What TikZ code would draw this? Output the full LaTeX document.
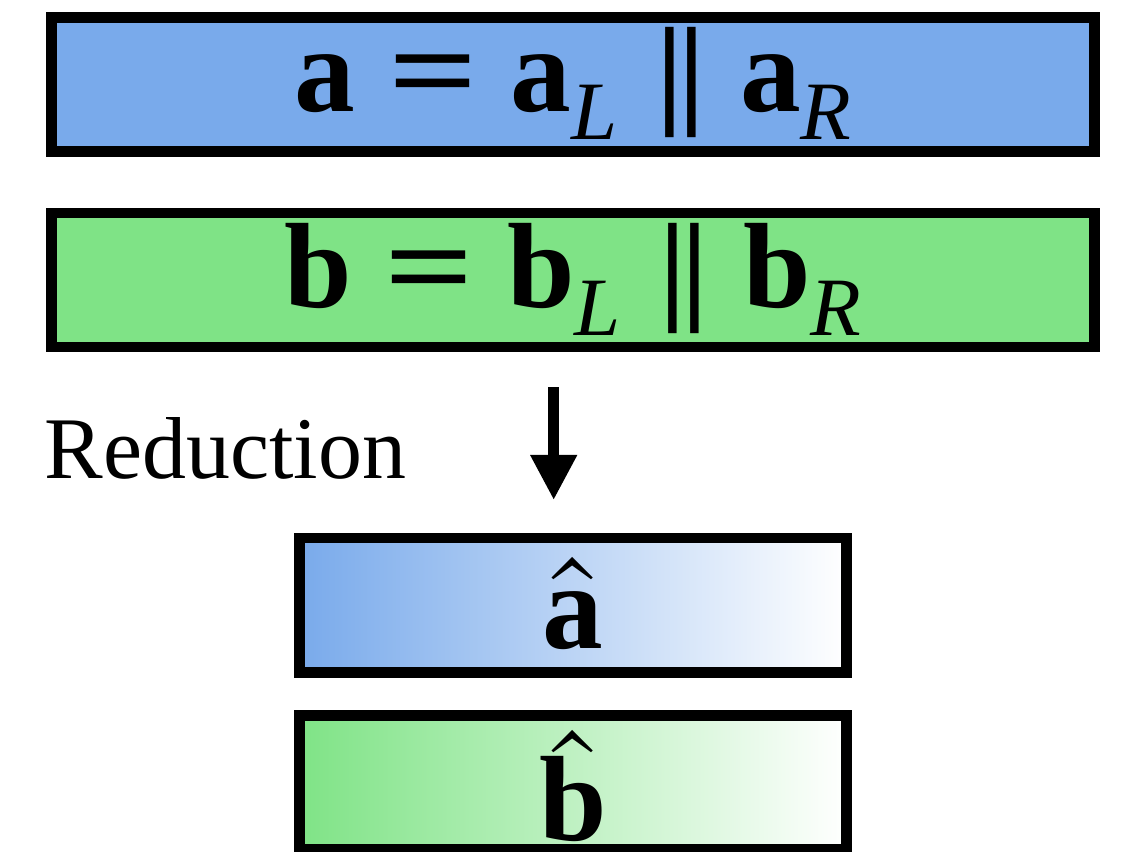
\documentclass[tikz,border=0pt]{standalone}
\usepackage{fontspec}
\setmainfont{Liberation Serif}
\usetikzlibrary{arrows.meta,positioning}
\definecolor{vecblue}{RGB}{121,170,235}
\definecolor{vecgreen}{RGB}{127,227,134}
\newcommand{\subidx}[1]{\raisebox{-0.28cm}{\fontsize{23.6}{28}\selectfont\itshape #1}}
\newcommand{\hatvec}[2]{\ooalign{\hidewidth\raisebox{#2}{\scalebox{1.12}[1.05]{\fontfamily{lmr}\selectfont ˆ}}\hidewidth\cr\textbf{#1}\cr}}
\newcommand{\splitvec}[1]{\textbf{#1}\hspace{0.27em}\scalebox{1.3}[1]{\textbf{=}}\hspace{0.27em}\textbf{#1}\subidx{L}\hspace{0.32em}\textbf{|}\kern-0.04em\textbf{|}\hspace{0.29em}\textbf{#1}\subidx{R}}

\begin{document}
\begin{tikzpicture}[
    x=0.01cm, y=-0.01cm,
    vecbox/.style={rectangle, draw=black, line width=3pt,
        minimum width=10.42cm, minimum height=1.34cm, inner sep=0pt,
        text height=0.846cm, text depth=0.3cm,
        font=\fontsize{34.5}{40}\selectfont},
    redbox/.style={vecbox, minimum width=5.47cm},
    >={Triangle[length=0.45cm, width=0.44cm]}
]
\useasboundingbox (0,0) rectangle (1122,851);
\node[vecbox, fill=vecblue] (avec) at (573,84.4) {\splitvec{a}};
\node[vecbox, fill=vecgreen, below=0.51cm of avec] (bvec) {\splitvec{b}};
\node[redbox, left color=vecblue, right color=white, below=1.804cm of bvec,
    text height=0.9cm, text depth=0.04cm] (ahat) {\hatvec{a}{0.02em}};
\node[redbox, left color=vecgreen, right color=white, below=0.327cm of ahat,
    text height=1.2cm, text depth=0.04cm] (bhat) {\hatvec{b}{0.18em}};
\node[anchor=base west, inner sep=0pt, font=\fontsize{25}{30}\selectfont] (redlabel) at (44,478) {Reduction};

\coordinate (redtop) at (553.7,387.3);
\coordinate (redbot) at (553.7,500);
\draw[->, line width=3pt] (redtop) -- (redbot);
\end{tikzpicture}
\end{document}
